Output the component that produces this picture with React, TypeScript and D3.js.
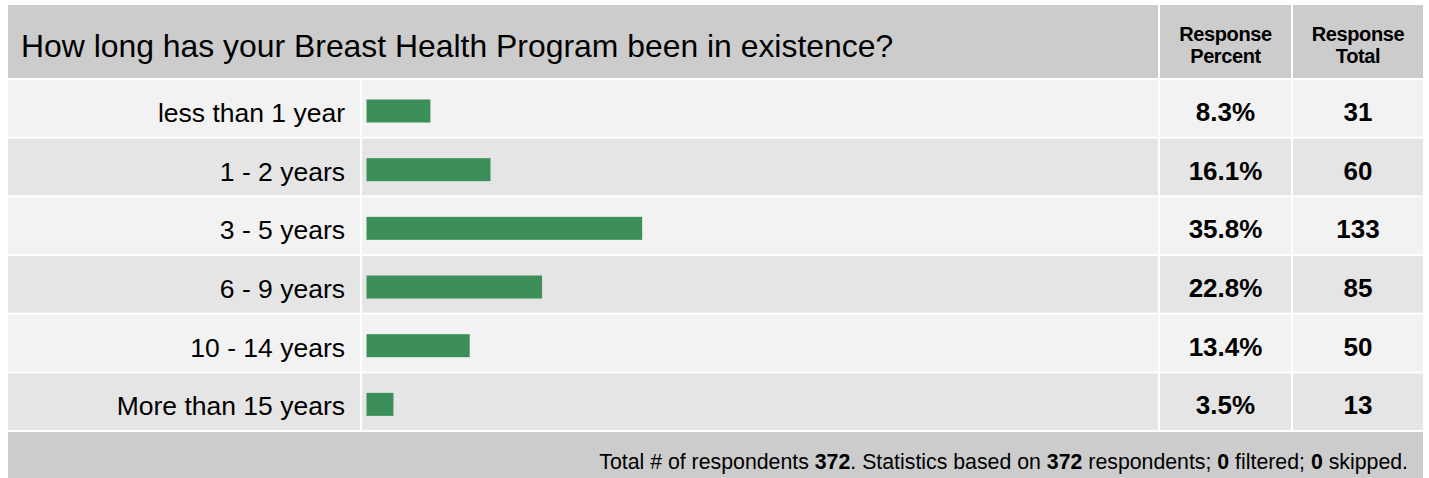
import React from "react";
import * as d3 from "d3";

const title = "How long has your Breast Health Program been in existence?";
const categories = ["less than 1 year", "1 - 2 years", "3 - 5 years", "6 - 9 years", "10 - 14 years", "More than 15 years"];
const percents = [8.3, 16.1, 35.8, 22.8, 13.4, 3.5];
const totals = [31, 60, 133, 85, 50, 13];
const respondents = 372;
const statsBase = 372;
const filtered = 0;
const skipped = 0;

const W = 1429;
const H = 478;
const FONT = "'Liberation Sans', Arial, Helvetica, sans-serif";

export default function App() {
  const left = 8;
  const right = 1423;
  const headerTop = 5;
  const headerBottom = 78;
  const rowsTop = 80;
  const rowPitch = 58.67;
  const rowH = 56.7;
  const labelRight = 360;
  const barLeft = 362;
  const pctLeft = 1160;
  const pctRight = 1291;
  const totLeft = 1293;
  const footerTop = 432;

  const y = d3.scaleBand<number>().domain(d3.range(categories.length)).range([rowsTop, rowsTop + rowPitch * categories.length]).paddingInner(0);
  const x = d3.scaleLinear().domain([0, 100]).range([0, 770]);

  const pctCx = (pctLeft + pctRight) / 2;
  const totCx = (totLeft + right) / 2;

  return (
    <svg width={W} height={H} style={{ position: "absolute", left: 0, top: 0 }} fontFamily={FONT}>
      <rect x={0} y={0} width={W} height={H} fill="#ffffff" />
      {/* header */}
      <rect x={left} y={headerTop} width={pctLeft - 2 - left} height={headerBottom - headerTop} fill="#cccccc" />
      <rect x={pctLeft} y={headerTop} width={pctRight - pctLeft} height={headerBottom - headerTop} fill="#cccccc" />
      <rect x={totLeft} y={headerTop} width={right - totLeft} height={headerBottom - headerTop} fill="#cccccc" />
      <text x={21} y={57} fontSize={31.9} fill="#000">{title}</text>
      <text x={pctCx} y={41} fontSize={20} fontWeight="bold" textAnchor="middle" letterSpacing={-0.4} fill="#000">Response</text>
      <text x={pctCx} y={63} fontSize={20} fontWeight="bold" textAnchor="middle" letterSpacing={-0.4} fill="#000">Percent</text>
      <text x={totCx} y={41} fontSize={20} fontWeight="bold" textAnchor="middle" letterSpacing={-0.4} fill="#000">Response</text>
      <text x={totCx} y={63} fontSize={20} fontWeight="bold" textAnchor="middle" letterSpacing={-0.4} fill="#000">Total</text>

      {categories.map((c, i) => {
        const top = y(i)!;
        const fill = i % 2 === 0 ? "#f2f2f2" : "#e5e5e5";
        return (
          <g key={c}>
            <rect x={left} y={top} width={labelRight - left} height={rowH} fill={fill} />
            <rect x={barLeft} y={top} width={pctLeft - 2 - barLeft} height={rowH} fill={fill} />
            <rect x={pctLeft} y={top} width={pctRight - pctLeft} height={rowH} fill={fill} />
            <rect x={totLeft} y={top} width={right - totLeft} height={rowH} fill={fill} />
            <text x={345} y={top + 42} fontSize={26.5} textAnchor="end" fill="#000">{c}</text>
            <rect x={barLeft + 4.5} y={top + 19.5} width={x(percents[i])} height={23} fill="#3c8f58" />
            <text x={pctCx} y={top + 41} fontSize={26} fontWeight="bold" textAnchor="middle" fill="#000">{percents[i].toFixed(1)}%</text>
            <text x={totCx} y={top + 41} fontSize={26} fontWeight="bold" textAnchor="middle" fill="#000">{totals[i]}</text>
          </g>
        );
      })}

      {/* footer */}
      <rect x={left} y={footerTop} width={right - left} height={H - footerTop} fill="#cccccc" />
      <text x={1408} y={469} fontSize={21.3} textAnchor="end" fill="#000">
        Total # of respondents <tspan fontWeight="bold">{respondents}</tspan>. Statistics based on{" "}
        <tspan fontWeight="bold">{statsBase}</tspan> respondents; <tspan fontWeight="bold">{filtered}</tspan> filtered;{" "}
        <tspan fontWeight="bold">{skipped}</tspan> skipped.
      </text>
    </svg>
  );
}
